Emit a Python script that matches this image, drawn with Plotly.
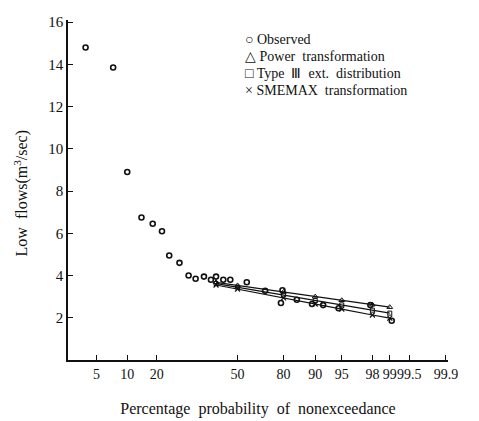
import numpy as np
import plotly.graph_objects as go

# ---- probability-paper scale (tick labels and their place on the paper) ----
TICK_PROB = [5, 10, 20, 50, 80, 90, 95, 98, 99, 99.5, 99.9]
TICK_LABELS = ["5", "10", "20", "50", "80", "90", "95", "98", "99", "99.5", "99.9"]
PAPER_POS = [28, 58, 87, 166, 211, 242, 268, 298, 315, 334, 370]

# ---- data ----
obs_prob = [3.2, 7.7, 10, 14.8, 18.6, 21.9, 24.6, 28.4, 31.8, 34.4, 37.5, 40.1, 42.0,
            44.7, 47.3, 56.0, 68.0, 79.3, 78.3, 84.2, 89.0, 91.5, 94.4, 97.8, 99.05]
obs_flow = [14.8, 13.85, 8.9, 6.75, 6.45, 6.1, 4.95, 4.6, 4.0, 3.85, 3.95, 3.8, 3.95,
            3.8, 3.8, 3.68, 3.28, 3.3, 2.7, 2.85, 2.65, 2.6, 2.45, 2.6, 1.86]

fit_prob = [42, 50, 80, 90, 95, 98, 99]
power_flow = [3.68, 3.53, 3.22, 3.0, 2.83, 2.62, 2.50]
type3_flow = [3.62, 3.45, 3.08, 2.82, 2.61, 2.36, 2.22]
smemax_flow = [3.55, 3.36, 2.94, 2.65, 2.41, 2.13, 1.98]

Y_TICKS = [2, 4, 6, 8, 10, 12, 14, 16]


def prob_to_x(p):
    p = np.asarray(p, float)
    x = np.interp(p, TICK_PROB, PAPER_POS)
    lo = p < TICK_PROB[0]
    slope = (PAPER_POS[1] - PAPER_POS[0]) / (TICK_PROB[1] - TICK_PROB[0])
    x[lo] = PAPER_POS[0] + (p[lo] - TICK_PROB[0]) * slope
    return x


INK = "#111111"
SERIF = "Liberation Serif"

fig = go.Figure()
fig.add_trace(go.Scatter(x=prob_to_x(fit_prob), y=power_flow, mode="lines+markers",
                         line=dict(color=INK, width=1.2),
                         marker=dict(symbol="triangle-up-open", size=5, color=INK),
                         name="Power transformation"))
fig.add_trace(go.Scatter(x=prob_to_x(fit_prob), y=type3_flow, mode="lines+markers",
                         line=dict(color=INK, width=1.2),
                         marker=dict(symbol="square-open", size=4, color=INK),
                         name="Type Ⅲ ext. distribution"))
fig.add_trace(go.Scatter(x=prob_to_x(fit_prob), y=smemax_flow, mode="lines+markers",
                         line=dict(color=INK, width=1.2),
                         marker=dict(symbol="x-thin-open", size=5, color=INK,
                                     line=dict(width=1.2, color=INK)),
                         name="SMEMAX transformation"))
fig.add_trace(go.Scatter(x=prob_to_x(obs_prob), y=obs_flow, mode="markers",
                         marker=dict(symbol="circle-open", size=5, color=INK,
                                     line=dict(width=1.6, color=INK)),
                         name="Observed"))

legend_lines = ["○ Observed", "△ Power  transformation",
                "□ Type  Ⅲ  ext.  distribution", "× SMEMAX  transformation"]
legend_y = [15.2, 14.36, 13.57, 12.77]
for txt, yy in zip(legend_lines, legend_y):
    fig.add_annotation(x=171, y=yy, xref="x", yref="y", text=txt.replace("  ", "\u00a0 "),
                       showarrow=False, xanchor="left", yanchor="middle",
                       font=dict(family=SERIF, size=14, color=INK))

fig.add_annotation(x=-46 / 372, y=0.49, xref="paper", yref="paper",
                   text="Low\u00a0 flows(m<sup>3</sup>/sec)", textangle=-90,
                   showarrow=False, xanchor="center", yanchor="middle",
                   font=dict(family=SERIF, size=16, color=INK))

fig.update_layout(
    width=471, height=413,
    margin=dict(l=60, r=31, t=6, b=55),
    paper_bgcolor="white", plot_bgcolor="white",
    showlegend=False,
    font=dict(family=SERIF, color=INK),
    xaxis=dict(range=[0, 372], tickvals=prob_to_x(TICK_PROB), ticktext=TICK_LABELS,
               tickangle=0,
               ticks="inside", ticklen=5, tickwidth=1.3, tickcolor=INK,
               showline=True, linecolor=INK, linewidth=1.5, showgrid=False,
               zeroline=False,
               tickfont=dict(family=SERIF, size=14, color=INK),
               title=dict(text="Percentage\u00a0 probability\u00a0 of\u00a0 nonexceedance",
                          font=dict(family=SERIF, size=16, color=INK), standoff=22)),
    yaxis=dict(range=[0, 16.1], tickvals=Y_TICKS,
               ticks="inside", ticklen=5, tickwidth=1.3, tickcolor=INK,
               showline=True, linecolor=INK, linewidth=1.5, showgrid=False,
               zeroline=False,
               tickfont=dict(family=SERIF, size=15, color=INK)),
)

fig.write_html("out.html")
